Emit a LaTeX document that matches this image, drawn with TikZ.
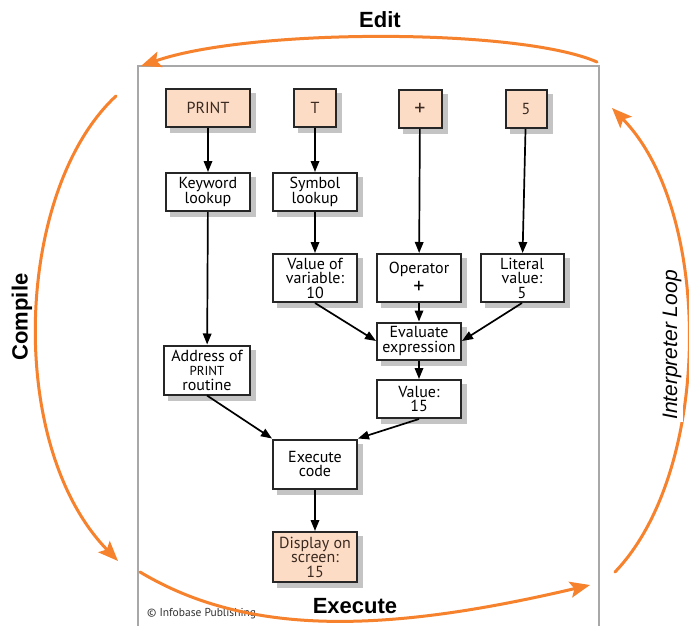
\documentclass[tikz,border=0pt]{standalone}
\usepackage{fontspec}
\setmainfont{PT Sans}
\newfontfamily\labelfont{Liberation Sans}
\usetikzlibrary{arrows.meta}
\pgfdeclarelayer{background}
\pgfsetlayers{background,main}
\definecolor{peach}{HTML}{FDDCC6}
\definecolor{orng}{HTML}{F7822D}
\definecolor{framegray}{HTML}{A8A8A8}
\definecolor{shadowgray}{HTML}{C4C4C4}
\definecolor{toktext}{HTML}{3A2A20}
\begin{document}
\begin{tikzpicture}[x=1pt,y=-1pt,
  box/.style={draw=black!85, line width=2pt, fill=white, align=center, inner sep=0pt,
    minimum width=84pt, minimum height=38pt, font=\fontsize{16}{14.5}\selectfont},
  tok/.style={box, fill=peach, text=toktext},
  flow/.style={line width=1.7pt, -{Triangle[length=11pt,width=8.5pt]}},
  loop/.style={orng, line width=3pt, line cap=round, -{Stealth[length=20pt,width=16pt,inset=4pt]}},
  lbl/.style={font=\labelfont\bfseries\fontsize{22}{22}\selectfont, inner sep=1pt}]
\useasboundingbox (0,0) rectangle (689,626);
% frame
\draw[framegray, line width=1.3pt] (138,626) -- (138,66) -- (599,66) -- (599,626);

% nodes
\node[tok] (print) at (208,108) {PRINT};
\node[tok, minimum width=42pt] (t) at (315,108) {T};
\node[tok, minimum width=43pt, font=\fontsize{22}{22}\selectfont] (plus) at (420,109) {+};
\node[tok, minimum width=41pt] (five) at (526,109) {5};
\node[box] (kw) at (208,192) {Keyword\\lookup};
\node[box] (sym) at (315,192) {Symbol\\lookup};
\node[box, minimum height=48pt] (var) at (315,278) {Value of\\variable:\\10};
\node[box, minimum height=48pt] (op) at (419,278) {Operator\\[3pt]{\fontsize{22}{16}\selectfont +}};
\node[box, minimum height=48pt, minimum width=83pt] (lit) at (522,278) {Literal\\value:\\5};
\node[box, minimum height=37pt] (eval) at (419,341) {Evaluate\\expression};
\node[box, minimum height=49pt, minimum width=86pt] (addr) at (207,370) {Address of\\{\fontsize{13}{14.5}\selectfont PRINT}\\routine};
\node[box] (val) at (419,399) {Value:\\15};
\node[box, minimum height=49pt] (exec) at (315,464) {Execute\\code};
\node[tok, minimum height=50pt] (disp) at (315,557) {Display on\\screen:\\15};

% white page and shadows
\begin{pgfonlayer}{background}
\fill[white] (0,0) rectangle (689,626);
\foreach \n in {print,t,plus,five,kw,sym,var,op,lit,eval,addr,val,exec,disp}
  \fill[shadowgray] ([xshift=5pt,yshift=-5pt]\n.south west) rectangle ([xshift=5pt,yshift=-5pt]\n.north east);
\end{pgfonlayer}

% connectors
\draw[flow] (print) -- (kw);
\draw[flow] (t) -- (sym);
\draw[flow] (plus) -- (op);
\draw[flow] (five) -- (lit);
\draw[flow] (kw) -- (addr);
\draw[flow] (sym) -- (var);
\draw[flow] (var.south) -- (eval.west);
\draw[flow] (op) -- (eval);
\draw[flow] (lit.south) -- (eval.east);
\draw[flow] (eval) -- (val);
\draw[flow] (addr.south) -- (exec.north west);
\draw[flow] (val.south) -- (exec.north east);
\draw[flow] (exec) -- (disp);

% copyright
\node[anchor=west, inner sep=0pt, font=\fontsize{11.5}{11.5}\selectfont, text=black!80] (copy) at (147,614) {\textcopyright{} Infobase Publishing};

% loop arcs
\coordinate (e1) at (597,62);
\coordinate (e2) at (141,66);
\draw[loop] (e1) .. controls (520,28) and (250,28) .. (e2);
\coordinate (c1) at (116,96);
\coordinate (c2) at (118,561);
\draw[loop] (c1) .. controls (15,190) and (5,445) .. (c2);
\coordinate (x1) at (140,572);
\coordinate (x2) at (590,585);
\draw[loop] (x1) .. controls (250,638) and (390,632) .. (x2);
\coordinate (i1) at (615,572);
\coordinate (i2) at (612,108);
\draw[loop] (i1) .. controls (713,470) and (713,211) .. (i2);

% labels
\node[lbl] (edit) at (380,20) {Edit};
\node[lbl, rotate=90] (compile) at (22,317) {Compile};
\node[lbl] (execute) at (355,606) {Execute};
\node[font=\labelfont\itshape\fontsize{21}{21}\selectfont, rotate=90, fill=white, inner sep=2pt] (interp) at (672,345) {Interpreter Loop};
\end{tikzpicture}
\end{document}
